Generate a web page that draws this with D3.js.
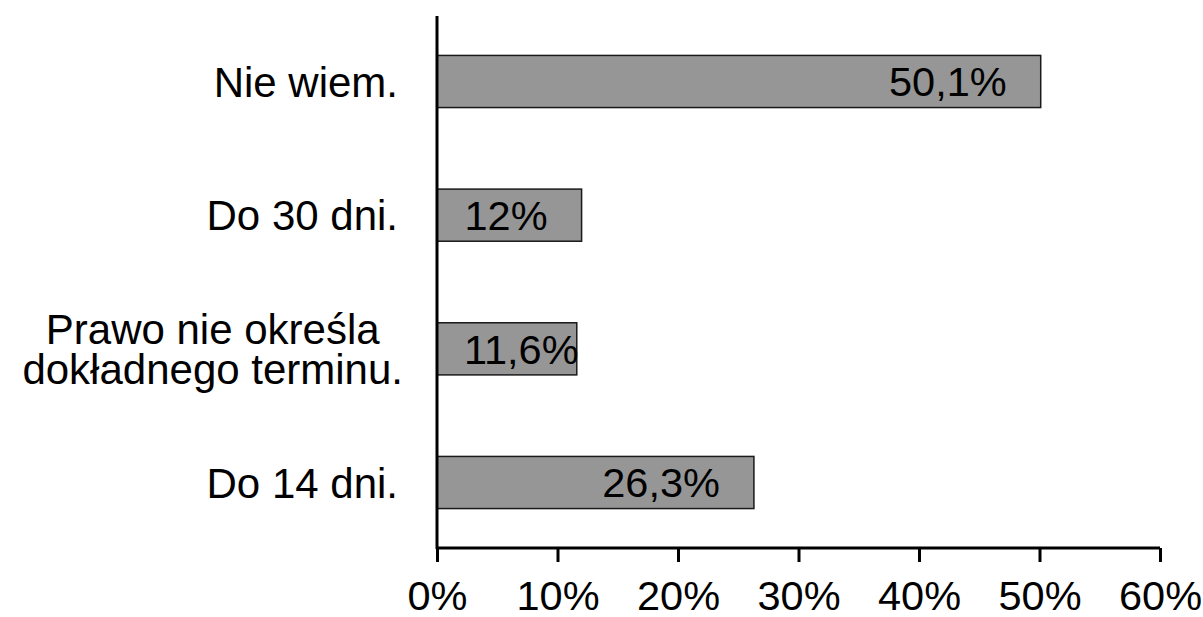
<!DOCTYPE html>
<html>
<head>
<meta charset="utf-8">
<script src="https://cdn.jsdelivr.net/npm/d3@7"></script>
<style>
  body { margin: 0; background: #fff; }
  text { font-family: "Liberation Sans", Arial, sans-serif; fill: #000; }
</style>
</head>
<body>
<svg width="1203" height="617"></svg>
<script>
var categories = [
  ["Nie wiem."],
  ["Do 30 dni."],
  ["Prawo nie określa", "dokładnego terminu."],
  ["Do 14 dni."]
];
var values = [50.1, 12, 11.6, 26.3];
var labels = ["50,1%", "12%", "11,6%", "26,3%"];
var ticks = [0, 10, 20, 30, 40, 50, 60];

var svg = d3.select("svg");
var plotLeft = 437, plotRight = 1160, plotTop = 16, plotBottom = 548;

var x = d3.scaleLinear().domain([0, 60]).range([plotLeft, plotRight]);
var y = d3.scaleBand().domain(d3.range(values.length))
    .range([plotTop, plotBottom]).paddingInner(0.61).paddingOuter(0.295);

var fs = 42;

// bars
svg.append("g").selectAll("rect")
  .data(values)
  .enter().append("rect")
  .attr("x", x(0))
  .attr("y", function(d, i) { return y(i); })
  .attr("width", function(d) { return x(d) - x(0); })
  .attr("height", y.bandwidth())
  .attr("fill", "#969696")
  .attr("stroke", "#1a1a1a")
  .attr("stroke-width", 1.5);

// value labels, inside end of the bar
svg.append("g").selectAll("text")
  .data(values)
  .enter().append("text")
  .attr("y", function(d, i) { return y(i) + y.bandwidth() / 2; })
  .attr("dy", "0.36em")
  .attr("font-size", 41.5)
  .attr("text-anchor", "end")
  .text(function(d, i) { return labels[i]; })
  .attr("x", function(d) {
    var w = this.getComputedTextLength();
    return Math.max(x(d) - 34, x(0) + 27 + w);
  });

// category labels
var lineH = 0.95;
var cat = svg.append("g").selectAll("text")
  .data(categories)
  .enter().append("text")
  .attr("font-size", fs)
  .attr("text-anchor", "middle")
  .attr("y", function(d, i) { return y(i) + y.bandwidth() / 2; });

cat.each(function(d) {
  var t = d3.select(this);
  var n = d.length;
  d.forEach(function(line, k) {
    t.append("tspan").attr("x", 0)
      .attr("dy", k === 0 ? (0.36 - (n - 1) * lineH / 2) + "em" : lineH + "em")
      .text(line);
  });
  var w = this.getBBox().width;
  var cx = 398 + (n - 1) * 5 - w / 2;
  t.selectAll("tspan").attr("x", cx);
});

// x axis
var xAxis = d3.axisBottom(x).tickValues(ticks)
  .tickFormat(function(d) { return d + "%"; })
  .tickSize(14).tickPadding(19);
var gx = svg.append("g").attr("transform", "translate(0," + plotBottom + ")").call(xAxis);
gx.select(".domain").attr("stroke", "#000").attr("stroke-width", 3)
  .attr("d", "M" + x(0) + ",0H" + x(60));
gx.selectAll(".tick line").attr("stroke", "#000").attr("stroke-width", 3);
gx.selectAll(".tick text").attr("font-size", 41.5)
  .attr("font-family", "Liberation Sans, Arial, sans-serif").attr("fill", "#000");

// y axis line
svg.append("line")
  .attr("x1", plotLeft).attr("x2", plotLeft)
  .attr("y1", plotTop).attr("y2", plotBottom + 1)
  .attr("stroke", "#000").attr("stroke-width", 3);
</script>
</body>
</html>
